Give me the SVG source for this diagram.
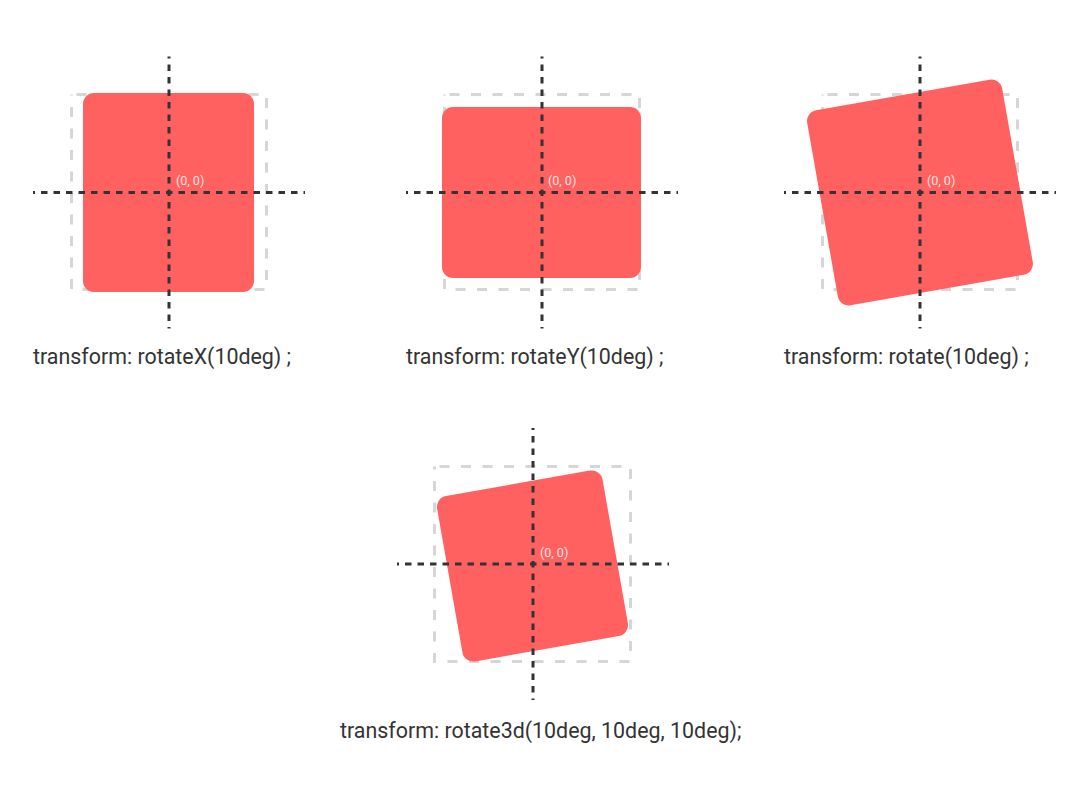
<svg xmlns="http://www.w3.org/2000/svg" width="1086" height="807" viewBox="0 0 1086 807">
<style>
.bg{fill:#ffffff}
.box{fill:none;stroke:#d6d6d6;stroke-width:3;stroke-dasharray:10 11.5;stroke-dashoffset:-5}
.card{fill:#ff6161}
.axis{stroke:#333333;stroke-width:3;fill:none;stroke-dasharray:6.5 6;stroke-dashoffset:4.5}
.origin{font-family:Roboto,"Liberation Sans",sans-serif;font-size:12.5px;fill:#ffe3e3}
.label{font-family:Roboto,"Liberation Sans",sans-serif;font-size:21.4px;fill:#333333}
</style>
<rect class="bg" x="0" y="0" width="1086" height="807"/>

<g id="panel-rotateX">
  <rect class="box" x="71.5" y="94.5" width="195" height="195"/>
  <rect class="card" x="83" y="93" width="171" height="199" rx="11"/>
  <text class="origin" x="176" y="185">(0, 0)</text>
  <text class="label" x="33" y="364">transform: rotateX(10deg) ;</text>
</g>

<g id="panel-rotateY">
  <rect class="box" x="444.5" y="94.5" width="195" height="195"/>
  <rect class="card" x="442" y="107" width="199" height="171" rx="11"/>
  <text class="origin" x="548" y="185">(0, 0)</text>
  <text class="label" x="406" y="364">transform: rotateY(10deg) ;</text>
</g>

<g id="panel-rotate">
  <rect class="box" x="822.5" y="94.5" width="195" height="195"/>
  <rect class="card" x="821" y="93.5" width="198" height="198" rx="11" transform="rotate(-10 920 192.5)"/>
  <text class="origin" x="927" y="185">(0, 0)</text>
  <text class="label" x="784" y="364">transform: rotate(10deg) ;</text>
</g>

<g id="panel-rotate3d">
  <rect class="box" x="434.5" y="466.5" width="196" height="195"/>
  <rect class="card" x="448.5" y="482" width="168" height="168" rx="11" transform="rotate(-10 532.5 566)"/>
  <text class="origin" x="540" y="557">(0, 0)</text>
  <text class="label" x="340" y="738">transform: rotate3d(10deg, 10deg, 10deg);</text>
</g>

<g id="connectors">
  <line class="axis" x1="33" y1="192.5" x2="305" y2="192.5"/>
  <line class="axis" x1="169" y1="56.5" x2="169" y2="328.5"/>
  <line class="axis" x1="406" y1="192.5" x2="678" y2="192.5"/>
  <line class="axis" x1="542" y1="56.5" x2="542" y2="328.5"/>
  <line class="axis" x1="784" y1="192.5" x2="1056" y2="192.5"/>
  <line class="axis" x1="920" y1="56.5" x2="920" y2="328.5"/>
  <line class="axis" x1="397" y1="564" x2="669" y2="564"/>
  <line class="axis" x1="533" y1="428" x2="533" y2="700"/>
</g>
</svg>
